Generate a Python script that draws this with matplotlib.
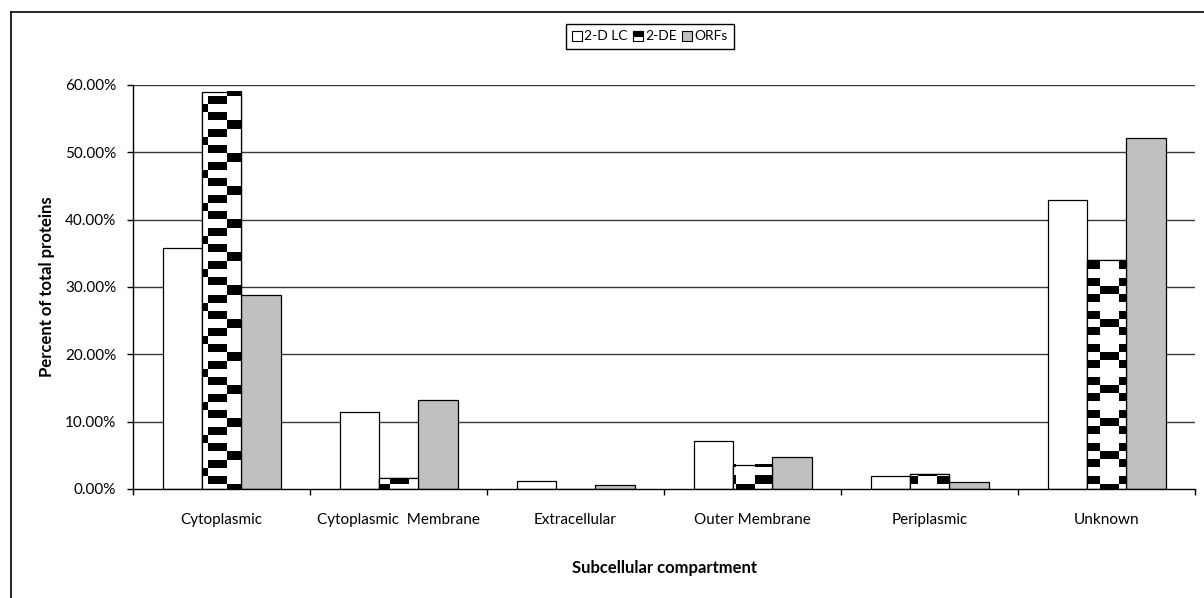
import numpy as np
import matplotlib
matplotlib.use("Agg")
import matplotlib.pyplot as plt
from matplotlib.patches import Rectangle
from matplotlib.legend_handler import HandlerBase
from matplotlib.lines import Line2D
from matplotlib.ticker import FuncFormatter

plt.rcParams['font.family'] = ['Lato', 'DejaVu Sans']

# data (percent of total proteins)
categories = ['Cytoplasmic', 'Cytoplasmic  Membrane', 'Extracellular',
              'Outer Membrane', 'Periplasmic', 'Unknown']
series_names = ['2-D LC', '2-DE', 'ORFs']
lc_values = [35.8, 11.4, 1.2, 7.2, 2.0, 42.9]
de_values = [59.0, 1.6, 0.0, 3.6, 2.2, 34.0]
orf_values = [28.8, 13.2, 0.6, 4.8, 1.0, 52.1]
y_ticks = [0, 10, 20, 30, 40, 50, 60]

W, H = 1204, 598
fig = plt.figure(figsize=(W / 100, H / 100), dpi=100)
ax = fig.add_axes([133 / W, 1 - 489 / H, (1195 - 133) / W, (489 - 85) / H])

n = len(categories)
x = np.arange(n)
bw = 2 / 9  # gap width 50%

ax.set_xlim(-0.5, n - 0.5)
ax.set_ylim(0, 60)

# grid lines
for t in y_ticks[1:]:
    ax.axhline(t, color='#383838', lw=1.0, zorder=1)

lc_bars = ax.bar(x - bw, lc_values, bw, color='white', edgecolor='black', lw=0.9, zorder=2)
de_bars = ax.bar(x, de_values, bw, color='white', edgecolor='black', lw=0.9, zorder=2)
orf_bars = ax.bar(x + bw, orf_values, bw, color='#c0c0c0', edgecolor='black', lw=0.9, zorder=2)


def pattern_value(px, py):
    # block pattern anchored to pixel position (x from left, y from top)
    c = np.floor((px - 189.7) / 18.2).astype(int) % 4
    r = np.floor((py - 121.0) / 8.25).astype(int) % 4
    on = np.zeros_like(c, dtype=bool)
    on |= (r == 0) & (c == 2)
    on |= (r == 1) & ((c == 1) | (c == 3))
    on |= (r == 2) & (c == 0)
    on |= (r == 3) & ((c == 1) | (c == 3))
    return on


# fill the 2-DE bars with the block pattern
for bar in de_bars:
    h = bar.get_height()
    if h <= 0:
        continue
    x0 = bar.get_x()
    x1 = x0 + bar.get_width()
    (dx0, dy0) = ax.transData.transform((x0, 0))
    (dx1, dy1) = ax.transData.transform((x1, h))
    nx = max(int(round(dx1 - dx0)), 1)
    ny = max(int(round(dy1 - dy0)), 1)
    px = dx0 + np.arange(nx) + 0.5
    py = (H - dy1) + np.arange(ny) + 0.5
    PX, PY = np.meshgrid(px, py)
    img = np.where(pattern_value(PX, PY), 0.0, 1.0)
    ax.imshow(img, extent=(x0, x1, 0, h), origin='upper', cmap='gray',
              vmin=0, vmax=1, interpolation='nearest', aspect='auto', zorder=2.5)
    ax.add_patch(Rectangle((x0, 0), x1 - x0, h, fill=False, edgecolor='black',
                           lw=0.9, zorder=3))

ax.set_xlim(-0.5, n - 0.5)
ax.set_ylim(0, 60)
ax.set_aspect('auto')

# axes styling
for s in ['top', 'right']:
    ax.spines[s].set_visible(False)
for s in ['left', 'bottom']:
    ax.spines[s].set_color('black')
    ax.spines[s].set_linewidth(1.0)
    ax.spines[s].set_zorder(4)

ax.set_yticks(y_ticks)
ax.yaxis.set_major_formatter(FuncFormatter(lambda v, p: '%.2f%%' % v))
ax.set_xticks(np.arange(n + 1) - 0.5)
ax.set_xticklabels([])
ax.set_xticks(x, minor=True)
ax.set_xticklabels(categories, minor=True)
ax.tick_params(axis='x', which='minor', length=0, pad=17, labelsize=11, colors='black')
ax.tick_params(axis='x', which='major', length=4, width=1.0, direction='out')
ax.tick_params(axis='y', length=4, width=1.0, direction='out', pad=8, labelsize=11)

ax.set_xlabel('Subcellular compartment', fontsize=12, fontweight='bold', labelpad=24)
ax.set_ylabel('Percent of total proteins', fontsize=12, fontweight='bold', labelpad=7)


class PatternHandler(HandlerBase):
    def create_artists(self, legend, orig_handle, xdescent, ydescent, width, height, fontsize, trans):
        base = Rectangle((-xdescent, -ydescent), width, height, facecolor='white',
                         edgecolor='black', lw=0.8, transform=trans)
        top = Rectangle((-xdescent, -ydescent + height * 0.45), width, height * 0.55,
                        facecolor='black', edgecolor='black', lw=0.8, transform=trans)
        return [base, top]


handles = [Rectangle((0, 0), 1, 1, facecolor='white', edgecolor='black', lw=0.8),
           Rectangle((0, 0), 1, 1, facecolor='white', edgecolor='black', lw=0.8),
           Rectangle((0, 0), 1, 1, facecolor='#c0c0c0', edgecolor='black', lw=0.8)]
leg = fig.legend(handles, series_names, loc='center', bbox_to_anchor=(650 / W, 1 - 36.5 / H),
                 ncol=3, fontsize=10, frameon=True, fancybox=False, edgecolor='black',
                 framealpha=1, handlelength=0.7, handleheight=0.7, handletextpad=0.15,
                 columnspacing=0.4, borderpad=0.5, borderaxespad=0,
                 handler_map={handles[1]: PatternHandler()})
leg.get_frame().set_linewidth(1.0)

# chart area border (left and top edges visible)
fig.add_artist(Line2D([10.7 / W, 10.7 / W], [0, 1 - 11.7 / H], color='black', lw=1.2,
                      transform=fig.transFigure))
fig.add_artist(Line2D([10.7 / W, 1], [1 - 11.7 / H, 1 - 11.7 / H], color='black', lw=1.2,
                      transform=fig.transFigure))

fig.savefig('out.png', dpi=100)
